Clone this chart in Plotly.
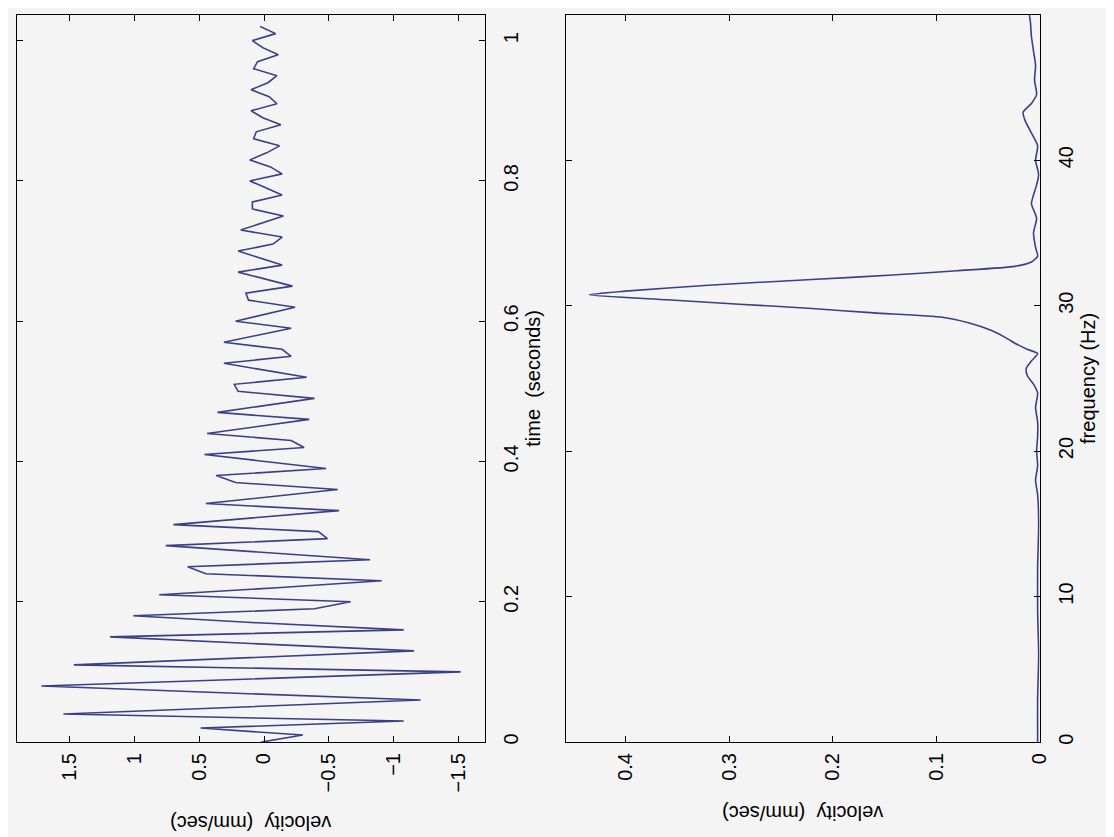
import plotly.graph_objects as go

# ---------------- data ----------------
time_s = [0.00, 0.01, 0.02, 0.03, 0.04, 0.05, 0.06, 0.07, 0.08, 0.09,
          0.10, 0.11, 0.12, 0.13, 0.14, 0.15, 0.16, 0.17, 0.18, 0.19,
          0.20, 0.21, 0.22, 0.23, 0.24, 0.25, 0.26, 0.27, 0.28, 0.29,
          0.30, 0.31, 0.32, 0.33, 0.34, 0.35, 0.36, 0.37, 0.38, 0.39,
          0.40, 0.41, 0.42, 0.43, 0.44, 0.45, 0.46, 0.47, 0.48, 0.49,
          0.50, 0.51, 0.52, 0.53, 0.54, 0.55, 0.56, 0.57, 0.58, 0.59,
          0.60, 0.61, 0.62, 0.63, 0.64, 0.65, 0.66, 0.67, 0.68, 0.69,
          0.70, 0.71, 0.72, 0.73, 0.74, 0.75, 0.76, 0.77, 0.78, 0.79,
          0.80, 0.81, 0.82, 0.83, 0.84, 0.85, 0.86, 0.87, 0.88, 0.89,
          0.90, 0.91, 0.92, 0.93, 0.94, 0.95, 0.96, 0.97, 0.98, 0.99,
          1.00, 1.01, 1.02]
velocity_t = [0.02, -0.30, 0.49, -1.08, 1.55, 0.11, -1.21, 0.27, 1.72, 0.10,
              -1.52, 1.47, 0.08, -1.16, 0.04, 1.19, -1.08, 0.05, 1.01, -0.39,
              -0.67, 0.81, -0.10, -0.91, 0.45, 0.59, -0.82, 0.01, 0.76, -0.49,
              -0.42, 0.70, 0.06, -0.58, 0.45, -0.06, -0.57, 0.22, 0.37, -0.48,
              -0.01, 0.46, -0.31, -0.21, 0.44, 0.04, -0.35, 0.36, -0.01, -0.39,
              0.20, 0.23, -0.33, -0.01, 0.31, -0.21, -0.14, 0.31, 0.05, -0.21,
              0.22, -0.01, -0.24, 0.12, 0.14, -0.22, -0.01, 0.20, -0.14, 0.03,
              0.20, -0.07, -0.14, 0.18, 0.02, -0.15, 0.09, 0.09, -0.14, -0.02,
              0.11, -0.14, -0.05, 0.11, -0.02, -0.12, 0.08, 0.06, -0.13, 0.01,
              0.10, -0.10, -0.04, 0.10, -0.03, -0.10, 0.08, 0.05, -0.11, 0.01,
              0.09, -0.09, 0.03]

freq_hz = [0, 3, 6, 9, 12, 15, 17, 18, 19, 20, 21, 22, 23, 24, 24.6, 25.2,
           25.7, 26.2, 26.7, 27.0, 27.3, 27.8, 28.3, 28.8, 29.2, 29.5, 29.8,
           30.1, 30.4, 30.75, 31.0, 31.4, 31.8, 32.1, 32.4, 32.7, 33.0, 33.4,
           34.0, 35.0, 36.0, 37.0, 37.6, 38.3, 39.0, 40.0, 41.0, 42.0, 42.7,
           43.3, 43.9, 44.5, 45.5, 46.5, 47.5, 48.5, 49.5, 50.0]
velocity_f = [0.002, 0.002, 0.001, 0.002, 0.002, 0.001, 0.002, 0.004, 0.002,
              0.003, 0.002, 0.002, 0.004, 0.002, 0.006, 0.012, 0.013, 0.008,
              0.002, 0.012, 0.021, 0.033, 0.047, 0.068, 0.094, 0.160, 0.220,
              0.290, 0.360, 0.435, 0.400, 0.320, 0.220, 0.142, 0.080, 0.024,
              0.008, 0.002, 0.004, 0.006, 0.003, 0.008, 0.006, 0.003, 0.001,
              0.004, 0.002, 0.009, 0.014, 0.016, 0.008, 0.003, 0.005, 0.004,
              0.006, 0.008, 0.009, 0.010]

t_ticks = [0, 0.2, 0.4, 0.6, 0.8, 1]
t_labels = ["0", "0.2", "0.4", "0.6", "0.8", "1"]
v1_ticks = [-1.5, -1, -0.5, 0, 0.5, 1, 1.5]
v1_labels = ["\u22121.5", "\u22121", "\u22120.5", "0", "0.5", "1", "1.5"]
f_ticks = [0, 10, 20, 30, 40]
f_labels = ["0", "10", "20", "30", "40"]
v2_ticks = [0, 0.1, 0.2, 0.3, 0.4]
v2_labels = ["0", "0.1", "0.2", "0.3", "0.4"]

# ---------------- figure ----------------
W, H = 1114, 837
BG = "#f4f4f4"
LINE = "#3b3f86"
FONT = "Liberation Sans, Arial, sans-serif"
FS = 20

fig = go.Figure()
fig.add_trace(go.Scatter(x=velocity_t, y=time_s, mode="lines",
                         line=dict(color=LINE, width=1.6),
                         xaxis="x", yaxis="y", showlegend=False))
fig.add_trace(go.Scatter(x=velocity_f, y=freq_hz, mode="lines",
                         line=dict(color=LINE, width=1.6, shape="spline", smoothing=0.6),
                         xaxis="x2", yaxis="y2", showlegend=False))

ydom = [1 - 736.7 / H, 1 - 6.7 / H]
common = dict(showline=True, linecolor="black", linewidth=1, mirror="ticks",
              ticks="inside", ticklen=6, tickcolor="black", tickwidth=1,
              showgrid=False, zeroline=False, tickangle=-90,
              tickfont=dict(family=FONT, size=FS, color="black"))

fig.update_layout(
    width=W, height=H,
    margin=dict(l=0, r=0, t=0, b=0),
    paper_bgcolor=BG, plot_bgcolor=BG,
    font=dict(family=FONT, size=FS, color="black"),
    xaxis=dict(domain=[9 / W, 482 / W], anchor="y", range=[1.91, -1.71],
               tickvals=v1_ticks, ticktext=v1_labels, ticklabelstandoff=2, **common),
    yaxis=dict(domain=ydom, anchor="x", side="right", range=[0, 1.037],
               tickvals=t_ticks, ticktext=t_labels, ticklabelstandoff=8,
               title=dict(text="time\u00a0 (seconds)", font=dict(family=FONT, size=FS), standoff=4),
               **common),
    xaxis2=dict(domain=[564 / W, 1042 / W], anchor="y2", range=[0.457, 0],
                tickvals=v2_ticks, ticktext=v2_labels, ticklabelstandoff=2, **common),
    yaxis2=dict(domain=ydom, anchor="x2", side="right", range=[0, 50],
                tickvals=f_ticks, ticktext=f_labels, ticklabelstandoff=8,
                title=dict(text="frequency (Hz)", font=dict(family=FONT, size=FS), standoff=4),
                **common),
    annotations=[
        dict(text="velocity\u00a0 (mm/sec)", x=245.5 / W, y=1 - 818 / H,
             xref="paper", yref="paper", showarrow=False, textangle=180,
             xanchor="center", yanchor="middle", font=dict(family=FONT, size=FS)),
        dict(text="velocity\u00a0 (mm/sec)", x=803 / W, y=1 - 808 / H,
             xref="paper", yref="paper", showarrow=False, textangle=180,
             xanchor="center", yanchor="middle", font=dict(family=FONT, size=FS)),
    ],
)

fig.write_html("out.html")
